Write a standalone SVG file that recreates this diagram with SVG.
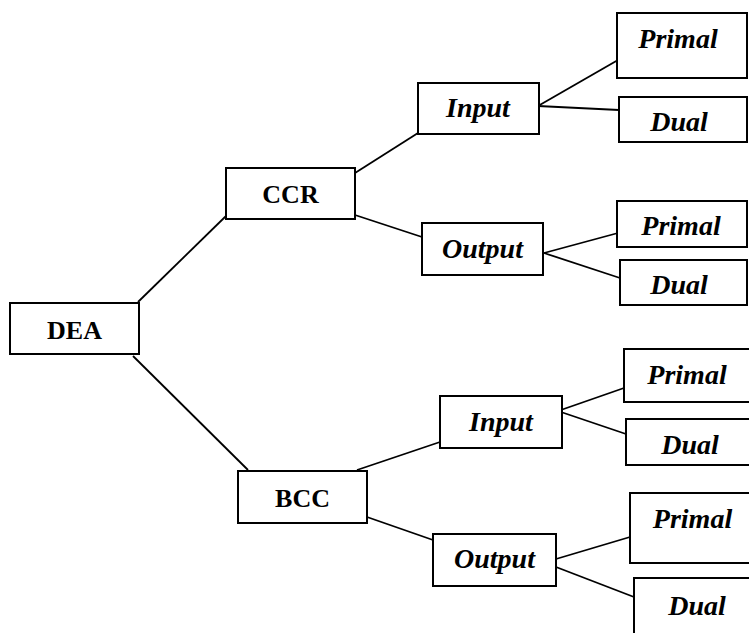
<svg xmlns="http://www.w3.org/2000/svg" width="749" height="633" viewBox="0 0 749 633">
<style>
  rect { fill: #ffffff; stroke: #000000; stroke-width: 2; }
  line { stroke: #000000; stroke-width: 1.8; }
  text { font-family: "Liberation Serif", "Times New Roman", serif; font-weight: bold; fill: #000000; text-anchor: middle; }
  .r { font-size: 26px; }
  .i { font-size: 28px; font-style: italic; }
</style>
<rect x="0" y="0" width="749" height="633" style="fill:#ffffff;stroke:none"/>
<g id="connectors">
  <line x1="138" y1="302" x2="226" y2="216"/>
  <line x1="133" y1="356" x2="248" y2="470"/>
  <line x1="355" y1="173" x2="418" y2="133"/>
  <line x1="355" y1="215" x2="422" y2="237"/>
  <line x1="538" y1="106" x2="618" y2="60"/>
  <line x1="538" y1="106" x2="619" y2="110"/>
  <line x1="544" y1="253" x2="618" y2="233"/>
  <line x1="544" y1="253" x2="620" y2="278"/>
  <line x1="357" y1="470" x2="440" y2="442"/>
  <line x1="367" y1="517" x2="433" y2="540"/>
  <line x1="558" y1="411" x2="624" y2="388"/>
  <line x1="558" y1="411" x2="626" y2="434"/>
  <line x1="556" y1="559" x2="630" y2="537"/>
  <line x1="556" y1="567" x2="634" y2="597"/>
</g>
<g id="dea"><rect x="10" y="303" width="129" height="51"/><text class="r" x="74.5" y="339">DEA</text></g>
<g id="ccr"><rect x="226" y="168" width="129" height="51"/><text class="r" x="290.5" y="203">CCR</text></g>
<g id="bcc"><rect x="238" y="471" width="129" height="52"/><text class="r" x="302.5" y="507">BCC</text></g>
<g id="ccr-input"><rect x="418" y="83" width="121" height="51"/><text class="i" x="478" y="117">Input</text></g>
<g id="ccr-output"><rect x="422" y="223" width="121" height="52"/><text class="i" x="482.5" y="258">Output</text></g>
<g id="bcc-input"><rect x="440" y="396" width="122" height="52"/><text class="i" x="501" y="431">Input</text></g>
<g id="bcc-output"><rect x="433" y="534" width="123" height="52"/><text class="i" x="494.5" y="568">Output</text></g>
<g id="ccr-input-primal"><rect x="617" y="13" width="130" height="65"/><text class="i" x="678" y="48">Primal</text></g>
<g id="ccr-input-dual"><rect x="619" y="97" width="128" height="45"/><text class="i" x="679" y="131">Dual</text></g>
<g id="ccr-output-primal"><rect x="617" y="201" width="130" height="46"/><text class="i" x="681" y="235">Primal</text></g>
<g id="ccr-output-dual"><rect x="620" y="260" width="127" height="45"/><text class="i" x="679" y="294">Dual</text></g>
<g id="bcc-input-primal"><rect x="624" y="349" width="135" height="53"/><text class="i" x="687" y="384">Primal</text></g>
<g id="bcc-input-dual"><rect x="626" y="419" width="133" height="46"/><text class="i" x="690" y="454">Dual</text></g>
<g id="bcc-output-primal"><rect x="630" y="493" width="129" height="70"/><text class="i" x="692.5" y="528">Primal</text></g>
<g id="bcc-output-dual"><rect x="634" y="578" width="125" height="70"/><text class="i" x="697" y="615">Dual</text></g>
</svg>
